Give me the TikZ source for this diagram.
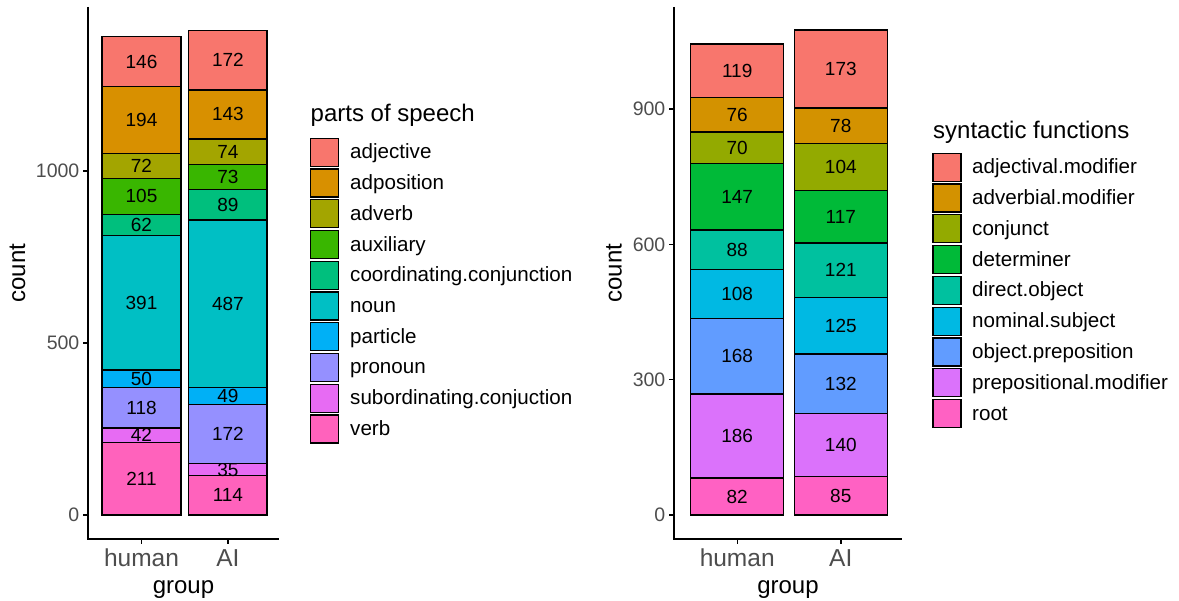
\documentclass[tikz,border=0pt]{standalone}
\usepackage{fontspec}
\setmainfont{Liberation Sans}
\definecolor{axisgray}{HTML}{4D4D4D}
% parts of speech
\definecolor{pAdj}{HTML}{F8766D}
\definecolor{pAdp}{HTML}{D89000}
\definecolor{pAdv}{HTML}{A3A500}
\definecolor{pAux}{HTML}{39B600}
\definecolor{pCconj}{HTML}{00BF7D}
\definecolor{pNoun}{HTML}{00BFC4}
\definecolor{pPart}{HTML}{00B0F6}
\definecolor{pPron}{HTML}{9590FF}
\definecolor{pSconj}{HTML}{E76BF3}
\definecolor{pVerb}{HTML}{FF62BC}
% syntactic functions
\definecolor{sAmod}{HTML}{F8766D}
\definecolor{sAdvmod}{HTML}{D39200}
\definecolor{sConj}{HTML}{93AA00}
\definecolor{sDet}{HTML}{00BA38}
\definecolor{sDobj}{HTML}{00C19F}
\definecolor{sNsubj}{HTML}{00B9E3}
\definecolor{sPobj}{HTML}{619CFF}
\definecolor{sPrep}{HTML}{DB72FB}
\definecolor{sRoot}{HTML}{FF61C3}
\tikzset{
  seg/.style={draw=black, line width=1.4pt},
  axisline/.style={line width=1.4pt},
  barlabel/.style={font=\fontsize{19}{19}\selectfont, inner sep=0pt},
  ticklabel/.style={font=\fontsize{19.5}{20}\selectfont, text=axisgray, anchor=east, inner sep=0pt},
  grouplabel/.style={font=\fontsize{24.5}{25}\selectfont, text=axisgray, anchor=base, inner sep=0pt},
  axistitle/.style={font=\fontsize{24}{24}\selectfont, anchor=base, inner sep=0pt},
  legtitle/.style={font=\fontsize{24}{24}\selectfont, anchor=base west, inner sep=0pt},
  legkey/.style={draw=black, line width=1.2pt},
  legtext/.style={font=\fontsize{20.6}{21}\selectfont, anchor=base west, inner sep=0pt},
}

\begin{document}
\begin{tikzpicture}[x=1pt, y=1pt]
  \useasboundingbox (0,0) rectangle (1179,601);

  % ---------- left panel: parts of speech ----------
  \draw [axisline] (88,594) -- (88,62) -- (279,62);
  \foreach \v/\yy in {0/86, 500/258, 1000/430} {
    \draw [axisline] (83,\yy) -- (88,\yy);
    \node [ticklabel] (lt\v) at (79.5,\yy) {\v};
  }
  \draw [axisline] (141.5,62) -- (141.5,57);
  \draw [axisline] (227.9,62) -- (227.9,57);
  \node [grouplabel] (lhuman) at (141.5,34.3) {human};
  \node [grouplabel] (lai) at (227.9,34.3) {AI};
  \node [axistitle] (lgroup) at (183.5,7.5) {group};
  \node [axistitle, rotate=90] (lcount) at (25,328) {count};

  \begin{scope}[shift={(0,86)}, yscale=0.344]
    % human
    \gdef\ylo{0}
    \foreach \cval/\col [count=\i] in {211/pVerb, 42/pSconj, 118/pPron, 50/pPart, 391/pNoun,
                                       62/pCconj, 105/pAux, 72/pAdv, 194/pAdp, 146/pAdj} {
      \pgfmathsetmacro\yhi{\ylo+\cval}
      \draw [seg, fill=\col] (102,\ylo) rectangle (181,\yhi);
      \node [barlabel] (lh\i) at (141.5,{(\ylo+\yhi)/2}) {\cval};
      \global\let\ylo\yhi
    }
    % AI
    \gdef\ylo{0}
    \foreach \cval/\col [count=\i] in {114/pVerb, 35/pSconj, 172/pPron, 49/pPart, 487/pNoun,
                                       89/pCconj, 73/pAux, 74/pAdv, 143/pAdp, 172/pAdj} {
      \pgfmathsetmacro\yhi{\ylo+\cval}
      \draw [seg, fill=\col] (188.7,\ylo) rectangle (267,\yhi);
      \node [barlabel] (la\i) at (227.9,{(\ylo+\yhi)/2}) {\cval};
      \global\let\ylo\yhi
    }
  \end{scope}

  % legend
  \node [legtitle] (lleg) at (310.5,479) {parts of speech};
  \foreach \name/\col [count=\i from 0] in {adjective/pAdj, adposition/pAdp, adverb/pAdv,
      auxiliary/pAux, coordinating.conjunction/pCconj, noun/pNoun, particle/pPart,
      pronoun/pPron, subordinating.conjuction/pSconj, verb/pVerb} {
    \pgfmathsetmacro\yk{448.7-30.74*\i}
    \draw [legkey, fill=\col] (310.5,\yk-14) rectangle (338.5,\yk+14);
    \node [legtext] (lk\i) at (350,\yk-6.5) {\name};
  }

  % ---------- right panel: syntactic functions ----------
  \draw [axisline] (674,594) -- (674,62) -- (902,62);
  \foreach \v/\yy in {0/86, 300/221.3, 600/356.7, 900/492} {
    \draw [axisline] (669,\yy) -- (674,\yy);
    \node [ticklabel] (rt\v) at (665.5,\yy) {\v};
  }
  \draw [axisline] (737.2,62) -- (737.2,57);
  \draw [axisline] (840.8,62) -- (840.8,57);
  \node [grouplabel] (rhuman) at (737.2,34.3) {human};
  \node [grouplabel] (rai) at (840.8,34.3) {AI};
  \node [axistitle] (rgroup) at (788,7.5) {group};
  \node [axistitle, rotate=90] (rcount) at (621.7,328) {count};

  \begin{scope}[shift={(0,86)}, yscale=0.4511]
    % human
    \gdef\ylo{0}
    \foreach \cval/\col [count=\i] in {82/sRoot, 186/sPrep, 168/sPobj, 108/sNsubj, 88/sDobj,
                                       147/sDet, 70/sConj, 76/sAdvmod, 119/sAmod} {
      \pgfmathsetmacro\yhi{\ylo+\cval}
      \draw [seg, fill=\col] (690.7,\ylo) rectangle (783.7,\yhi);
      \node [barlabel] (rh\i) at (737.2,{(\ylo+\yhi)/2}) {\cval};
      \global\let\ylo\yhi
    }
    % AI
    \gdef\ylo{0}
    \foreach \cval/\col [count=\i] in {85/sRoot, 140/sPrep, 132/sPobj, 125/sNsubj, 121/sDobj,
                                       117/sDet, 104/sConj, 78/sAdvmod, 173/sAmod} {
      \pgfmathsetmacro\yhi{\ylo+\cval}
      \draw [seg, fill=\col] (794.3,\ylo) rectangle (887.3,\yhi);
      \node [barlabel] (ra\i) at (840.8,{(\ylo+\yhi)/2}) {\cval};
      \global\let\ylo\yhi
    }
  \end{scope}

  % legend
  \node [legtitle] (rleg) at (933,462.7) {syntactic functions};
  \foreach \name/\col [count=\i from 0] in {adjectival.modifier/sAmod, adverbial.modifier/sAdvmod,
      conjunct/sConj, determiner/sDet, direct.object/sDobj, nominal.subject/sNsubj,
      object.preposition/sPobj, prepositional.modifier/sPrep, root/sRoot} {
    \pgfmathsetmacro\yk{433.7-30.8*\i}
    \draw [legkey, fill=\col] (933,\yk-14) rectangle (961,\yk+14);
    \node [legtext] (rk\i) at (972,\yk-6.5) {\name};
  }
\end{tikzpicture}
\end{document}
